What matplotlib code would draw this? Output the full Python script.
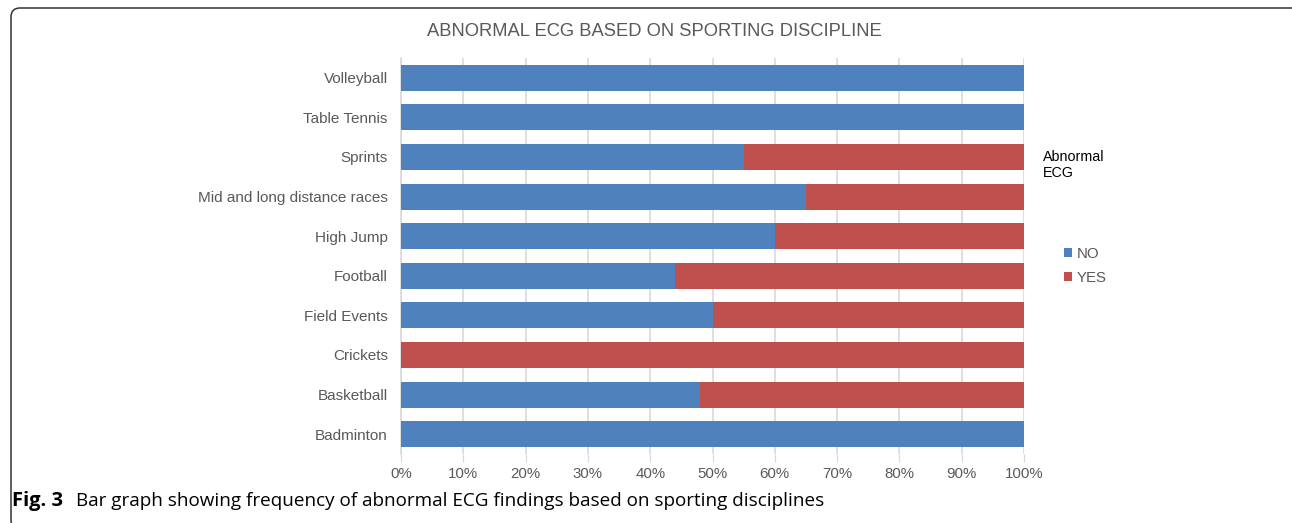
import numpy as np
import matplotlib
matplotlib.use("Agg")
from matplotlib import pyplot as plt
from matplotlib.patches import FancyBboxPatch
from matplotlib.transforms import IdentityTransform

# data (bottom to top, as drawn)
sports = ["Badminton", "Basketball", "Crickets", "Field Events", "Football",
          "High Jump", "Mid and long distance races", "Sprints",
          "Table Tennis", "Volleyball"]
no_pct = [100, 48, 0, 50, 44, 60, 65, 55, 100, 100]
yes_pct = [0, 52, 100, 50, 56, 40, 35, 45, 0, 0]
ticks = [0, 10, 20, 30, 40, 50, 60, 70, 80, 90, 100]

blue = "#4F81BD"
red = "#C0504D"
grey_txt = "#595959"

plt.rcParams["font.family"] = ["Liberation Sans", "DejaVu Sans"]

W, H = 1292, 523
fig = plt.figure(figsize=(W / 100, H / 100), dpi=100)
fig.patch.set_facecolor("white")

# rounded frame, in pixels (origin bottom-left)
frame = FancyBboxPatch((11, -6), W, H - 8 + 6,
                       boxstyle="round,pad=0,rounding_size=9",
                       transform=IdentityTransform(), fill=False,
                       edgecolor="#333333", linewidth=1.1, clip_on=False)
fig.patches.append(frame)

ax = fig.add_axes([401 / W, (H - 454) / H, (1024 - 401) / W, (454 - 58) / H])
y = np.arange(len(sports))
b1 = ax.barh(y, no_pct, height=0.66, color=blue, label="NO", zorder=3)
b2 = ax.barh(y, yes_pct, left=no_pct, height=0.66, color=red, label="YES", zorder=3)

ax.set_xlim(0, 100)
ax.set_ylim(-0.5, len(sports) - 0.5)
ax.set_xticks(ticks)
ax.set_xticklabels([f"{t}%" for t in ticks])
ax.set_yticks(y)
ax.set_yticklabels(sports)
ax.xaxis.grid(True, color="#D9D9D9", linewidth=1.2, zorder=0)
ax.tick_params(axis="x", length=6, color="#D9D9D9", labelsize=10.8, labelcolor=grey_txt, pad=3)
ax.tick_params(axis="y", length=0, labelsize=11, labelcolor=grey_txt, pad=9.5)
for s in ["top", "right", "bottom"]:
    ax.spines[s].set_visible(False)
ax.spines["left"].set_color("#D9D9D9")
ax.spines["left"].set_linewidth(1.2)

fig.text(654 / W, 1 - 32 / H, "ABNORMAL ECG BASED ON SPORTING DISCIPLINE",
         ha="center", va="center", fontsize=13.2, color=grey_txt)

fig.text(1043 / W, 1 - 165 / H, "Abnormal\nECG", ha="left", va="center",
         fontsize=10.3, color="black", linespacing=1.2)
fig.legend(handles=[b1, b2], labels=["NO", "YES"], loc="center left",
           bbox_to_anchor=(1064 / W, 1 - 266 / H), frameon=False,
           fontsize=10.8, labelcolor=grey_txt, handlelength=0.55, handleheight=0.55,
           handletextpad=0.3, labelspacing=0.7, borderpad=0, borderaxespad=0)

# caption, squeezed to the width it has in the figure
cap_y = 1 - 501 / H
t1 = fig.text(12 / W, cap_y, "Fig. 3", ha="left", va="center",
              fontsize=14.5, fontweight="bold", family="Open Sans")
t2 = fig.text(76 / W, cap_y,
              "Bar graph showing frequency of abnormal ECG findings based on sporting disciplines",
              ha="left", va="center", fontsize=12, family="Open Sans")
r = fig.canvas.get_renderer()
w2 = t2.get_window_extent(r).width
t2.set_fontsize(12 * 744 / w2)

fig.savefig("out.png", dpi=100)
